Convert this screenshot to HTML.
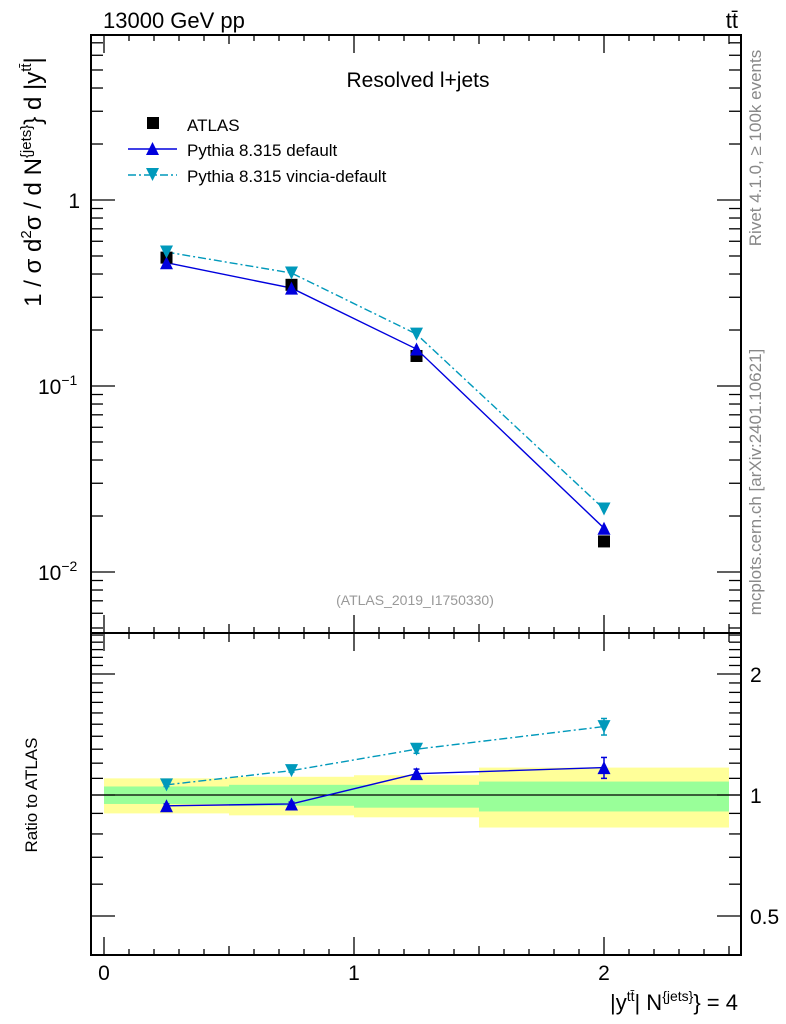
<!DOCTYPE html>
<html><head><meta charset="utf-8">
<style>
html,body{margin:0;padding:0;background:#fff;}
svg{display:block;font-family:"Liberation Sans",sans-serif;}
</style></head>
<body>
<svg id="c" width="786" height="1024" viewBox="0 0 786 1024" xmlns="http://www.w3.org/2000/svg">
<text x="103" y="28" font-size="22">13000 GeV pp</text>
<text x="738" y="28" font-size="22" text-anchor="end">tt̄</text>
<text x="418" y="87" font-size="21" text-anchor="middle">Resolved l+jets</text>
<text x="415" y="605" font-size="14" fill="#999" text-anchor="middle">(ATLAS_2019_I1750330)</text>
<text transform="translate(761,148) rotate(-90)" font-size="17" fill="#888" text-anchor="middle">Rivet 4.1.0, ≥ 100k events</text>
<text transform="translate(761,482) rotate(-90)" font-size="17" fill="#888" text-anchor="middle">mcplots.cern.ch [arXiv:2401.10621]</text>
<text transform="translate(41,182) rotate(-90)" font-size="24" text-anchor="middle">1 / σ d<tspan font-size="15" dy="-10">2</tspan><tspan dy="10">σ / d N</tspan><tspan font-size="15" dy="-10">{jets}</tspan><tspan dy="10">} d |y</tspan><tspan font-size="15" dy="-10">tt̄</tspan><tspan dy="10">|</tspan></text>
<text transform="translate(37,795) rotate(-90)" font-size="17" text-anchor="middle">Ratio to ATLAS</text>
<text x="738" y="1010" font-size="22" text-anchor="end">|y<tspan font-size="14" dy="-9">tt̄</tspan><tspan dy="9">| N</tspan><tspan font-size="14" dy="-9">{jets}</tspan><tspan dy="9">} = 4</tspan></text>
<g id="g"></g>
</svg>
<script>
const categories=[0.25,0.75,1.25,2.0];
const binEdges=[[0,0.5],[0.5,1],[1,1.5],[1.5,2.5]];
const atlas=[0.49,0.35,0.145,0.0146];
const pyDefault=[0.46,0.336,0.158,0.0172];
const pyVincia=[0.525,0.405,0.19,0.0218];
const ratioDefault=[0.94,0.95,1.13,1.17];
const ratioDefaultErr=[0.01,0.01,0.03,0.07];
const ratioVincia=[1.06,1.15,1.3,1.48];
const ratioVinciaErr=[0.01,0.01,0.03,0.07];
const bandYellowUp=[1.10,1.11,1.12,1.17];
const bandYellowDn=[0.90,0.89,0.88,0.83];
const bandGreenUp=[1.05,1.06,1.06,1.08];
const bandGreenDn=[0.95,0.94,0.93,0.91];
const xTicks=[0,1,2];
const mainTicks=[1,0.1,0.01];
const mainTickLabels=["1","10","10"];
const mainTickExp=["","−1","−2"];
const ratioTicks=[2,1,0.5];
const ratioTickLabels=["2","1","0.5"];

const NS="http://www.w3.org/2000/svg";
const g=document.getElementById('g');
const L=91,R=741,T=35,M=633,B=955;
const X=v=>104+250*v;
const Y=v=>200-186*Math.log10(v);
const YR=v=>795-121*Math.log2(v);
function mk(t,a,p){const e=document.createElementNS(NS,t);for(const k in a)e.setAttribute(k,a[k]);(p||g).appendChild(e);return e;}

binEdges.forEach((b,i)=>{
 const r1=mk('rect',{x:X(b[0]),y:YR(bandYellowUp[i]),width:X(b[1])-X(b[0]),height:YR(bandYellowDn[i])-YR(bandYellowUp[i]),fill:'#ffff99'});
 
 
 const r2=mk('rect',{x:X(b[0]),y:YR(bandGreenUp[i]),width:X(b[1])-X(b[0]),height:YR(bandGreenDn[i])-YR(bandGreenUp[i]),fill:'#99ff99'});
 
 
});
const one=mk('line',{x1:L,x2:R,y1:YR(1),y2:YR(1),stroke:'#000','stroke-width':1.3});



[[T,M],[M,B]].forEach(([a,b],k)=>{
 const f=mk('rect',{x:L,y:a,width:R-L,height:b-a,fill:'none',stroke:'#000','stroke-width':2});
 
 
});
for(let i=0;i<=25;i++){const v=i*0.1;const x=X(v);if(x<L||x>R)continue;const big=i%10==0;const mid=i%5==0;
 const len=big?18:(mid?9:6);
 [[T,1],[M,-1],[M,1],[B,-1]].forEach(([y,d])=>mk('line',{x1:x,x2:x,y1:y,y2:y+d*len,stroke:'#000','stroke-width':1.3}));}
xTicks.forEach(v=>{const t=mk('text',{x:X(v),y:980,'font-size':21,'text-anchor':'middle'});t.textContent=v;
 
 });
for(let d=-3;d<=0;d++)for(let m=1;m<=9;m++){const v=m*Math.pow(10,d);const y=Y(v);if(y<T||y>M)continue;const len=m==1?24:12;
 mk('line',{x1:L,x2:L+len,y1:y,y2:y,stroke:'#000','stroke-width':1.3});mk('line',{x1:R,x2:R-len,y1:y,y2:y,stroke:'#000','stroke-width':1.3});}
mainTicks.forEach((v,i)=>{const t=mk('text',{x:80,y:Y(v)+8,'font-size':21,'text-anchor':'end'});t.textContent=mainTickLabels[i];
 if(mainTickExp[i]){const s=mk('tspan',{dy:-9,'font-size':14},t);s.textContent=mainTickExp[i];t.setAttribute('text-anchor','start');t.setAttribute('x',38);}
 
 });
for(let i=4;i<=25;i++){const v=i*0.1;const y=YR(v);if(y<M||y>B)continue;const big=(i==5||i==10||i==20);const len=big?24:12;
 mk('line',{x1:L,x2:L+len,y1:y,y2:y,stroke:'#000','stroke-width':1.3});mk('line',{x1:R,x2:R-len,y1:y,y2:y,stroke:'#000','stroke-width':1.3});}
ratioTicks.forEach((v,i)=>{const t=mk('text',{x:750,y:YR(v)+8,'font-size':21});t.textContent=ratioTickLabels[i];
 
 });

function line(vals,fy,col,dash,name){const p=mk('polyline',{points:vals.map((v,i)=>X(categories[i])+','+fy(v)).join(' '),fill:'none',stroke:col,'stroke-width':1.4,'stroke-dasharray':dash||''});
 
 }
function tri(x,y,col,down,name){const s=6.5;const pts=down?[[x-s,y-s],[x+s,y-s],[x,y+s]]:[[x-s,y+s],[x+s,y+s],[x,y-s]];
 const p=mk('polygon',{points:pts.map(a=>a.join(',')).join(' '),fill:col});
 
 }
function err(x,v,e,fy,col){const y1=fy(v+e),y2=fy(v-e);mk('line',{x1:x,x2:x,y1:y1,y2:y2,stroke:col,'stroke-width':1.5});
 mk('line',{x1:x-3,x2:x+3,y1:y1,y2:y1,stroke:col,'stroke-width':1.5});mk('line',{x1:x-3,x2:x+3,y1:y2,y2:y2,stroke:col,'stroke-width':1.5});}

const C1='#0000dd',C2='#0099bb';
line(pyVincia,Y,C2,'8 3 2 3','vincia-line');
line(pyDefault,Y,C1,'','default-line');
atlas.forEach((v,i)=>{const r=mk('rect',{x:X(categories[i])-6,y:Y(v)-6,width:12,height:12,fill:'#000'});
 
 });
pyDefault.forEach((v,i)=>tri(X(categories[i]),Y(v),C1,false,'default-point'));
pyVincia.forEach((v,i)=>tri(X(categories[i]),Y(v),C2,true,'vincia-point'));

line(ratioVincia,YR,C2,'8 3 2 3','ratio-vincia-line');
line(ratioDefault,YR,C1,'','ratio-default-line');
ratioVincia.forEach((v,i)=>{err(X(categories[i]),v,ratioVinciaErr[i],YR,C2);tri(X(categories[i]),YR(v),C2,true,'ratio-vincia-point');});
ratioDefault.forEach((v,i)=>{err(X(categories[i]),v,ratioDefaultErr[i],YR,C1);tri(X(categories[i]),YR(v),C1,false,'ratio-default-point');});

const lg=mk('g',{});


mk('rect',{x:147,y:117,width:12,height:12,fill:'#000'},lg);
mk('line',{x1:128,x2:177,y1:149,y2:149,stroke:C1,'stroke-width':1.4},lg);
mk('polygon',{points:'146,155 159,155 152.5,142',fill:C1},lg);
mk('line',{x1:128,x2:177,y1:175,y2:175,stroke:C2,'stroke-width':1.4,'stroke-dasharray':'8 3 2 3'},lg);
mk('polygon',{points:'146,168 159,168 152.5,181',fill:C2},lg);
[['ATLAS',131,'legend-entry-atlas'],['Pythia 8.315 default',156,'legend-entry-default'],['Pythia 8.315 vincia-default',182,'legend-entry-vincia']].forEach(([s,y,n])=>{
 const t=mk('text',{x:187,y:y,'font-size':17},lg);t.textContent=s;
 
 });
</script>
</body></html>
